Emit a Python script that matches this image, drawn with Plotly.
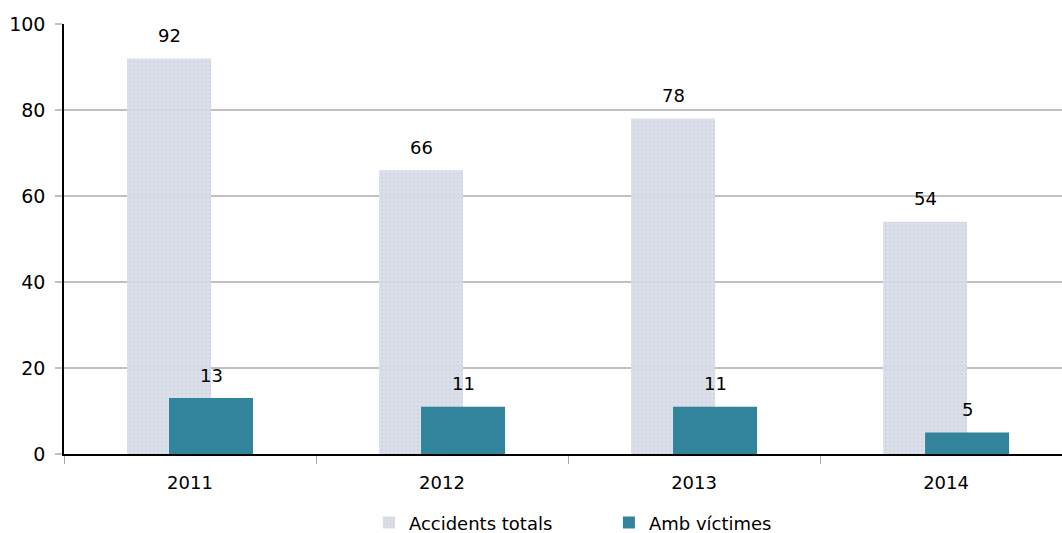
import plotly.graph_objects as go

years = ["2011", "2012", "2013", "2014"]
totals = [92, 66, 78, 54]
victims = [13, 11, 11, 5]
series_names = ["Accidents totals", "Amb víctimes"]

FONT = "DejaVu Sans"
W = 1/3

fig = go.Figure()
fig.add_trace(go.Bar(
    x=years, y=totals, name=series_names[0], width=W, offset=-0.25,
    marker=dict(color="#d5dae6", line=dict(width=0),
                pattern=dict(shape=".", fgcolor="#c3c9da", bgcolor="#d9dde8", size=4, solidity=0.3)),
    opacity=0.95,
))
fig.add_trace(go.Bar(
    x=years, y=victims, name=series_names[1], width=W, offset=-1/12,
    marker=dict(color="#31849b", line=dict(width=0)),
))

annotations = []
for i, yr in enumerate(years):
    annotations.append(dict(x=i - 1/12, y=totals[i], text=str(totals[i]), xref="x", yref="y",
                            showarrow=False, yshift=23, font=dict(size=18, color="#000", family=FONT)))
    annotations.append(dict(x=i + 1/12, y=victims[i], text=str(victims[i]), xref="x", yref="y",
                            showarrow=False, yshift=23, font=dict(size=18, color="#000", family=FONT)))

fig.update_layout(
    width=1062, height=533,
    margin=dict(l=64, r=0, t=24, b=79, autoexpand=False),
    plot_bgcolor="white", paper_bgcolor="white",
    barmode="overlay",
    font=dict(family=FONT, size=18, color="#000"),
    showlegend=True,
    legend=dict(orientation="h", x=0.546, xanchor="center", y=-0.16, yanchor="middle",
                font=dict(size=18, family=FONT), entrywidth=195, entrywidthmode="pixels",
                itemwidth=30),
    annotations=annotations,
)
fig.update_xaxes(
    type="category", tickson="boundaries", ticks="outside", ticklen=8, tickcolor="#a6a6a6",
    tickwidth=1, showline=True, linecolor="#000", linewidth=1.5, showgrid=False,
    tickfont=dict(size=18, family=FONT), range=[-0.5, 3.46], ticklabelstandoff=12,
)
fig.update_yaxes(
    range=[0, 100], dtick=20, showgrid=True, gridcolor="#c0c0c0", gridwidth=1.5,
    showline=True, linecolor="#000", linewidth=1.5, zeroline=False,
    ticks="outside", ticklen=7, tickcolor="#c0c0c0", tickwidth=1.5,
    tickfont=dict(size=19, family=FONT), ticklabelstandoff=6,
)

fig.write_html("out.html")
